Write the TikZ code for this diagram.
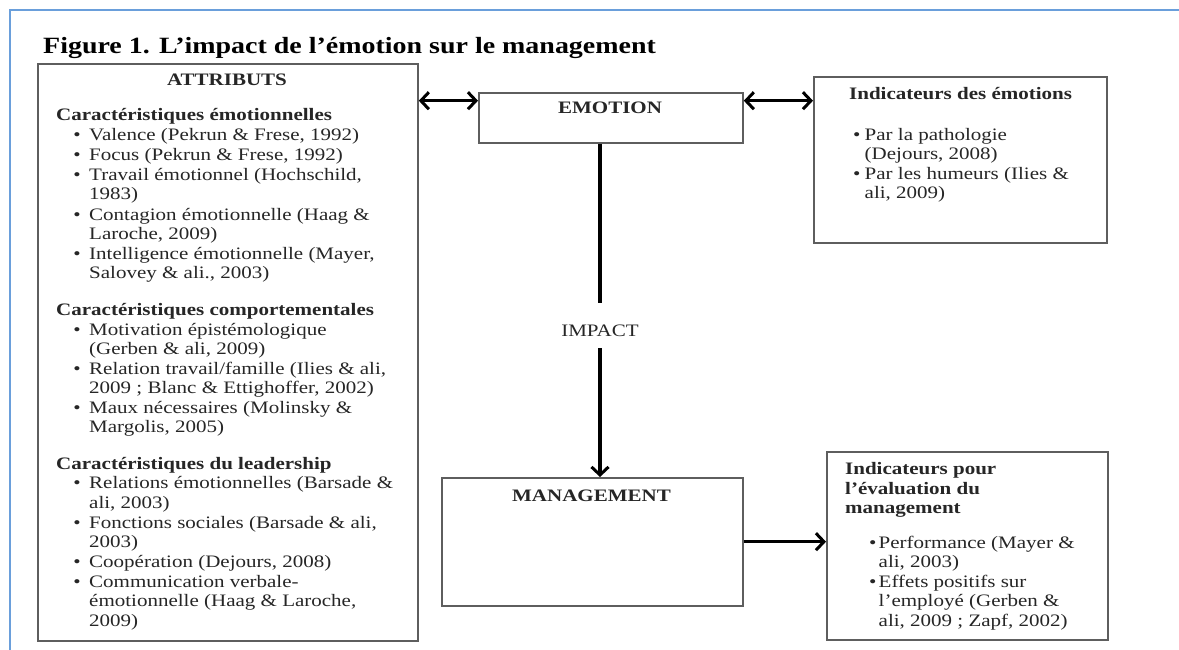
\documentclass[tikz,border=0pt]{standalone}
\usepackage{fontspec}
\setmainfont{Liberation Serif}[FakeStretch=1.2]
\usetikzlibrary{arrows.meta}
\definecolor{frameblue}{HTML}{6A9FDB}
\definecolor{boxgray}{HTML}{5E5E5E}
\definecolor{ink}{HTML}{262626}
\newcommand{\bodyfont}{\fontsize{17.5}{19.8}\selectfont}
\newcommand{\titlefont}{\fontsize{23.3}{26}\selectfont\bfseries}
\begin{document}
\begin{tikzpicture}[x=1pt,y=-1pt,
  box/.style={draw=boxgray,line width=1.8pt,rectangle,inner sep=0pt,anchor=north west,fill=white},
  txt/.style={anchor=base west,inner sep=0pt,font=\bodyfont,text=ink},
  hd/.style={anchor=base west,inner sep=0pt,font=\bodyfont\bfseries,text=ink},
  ctr/.style={anchor=base,inner sep=0pt,font=\bodyfont,text=ink},
  ctrb/.style={anchor=base,inner sep=0pt,font=\bodyfont\bfseries,text=ink},
  dotb/.style={anchor=base,inner sep=0pt,font=\bodyfont,text=ink},
  >={Straight Barb[length=8pt,width=17pt,line width=3pt]},
  conn/.style={line width=3.4pt,draw=black},
]
\useasboundingbox (0,0) rectangle (1179,650);
\fill[white] (0,0) rectangle (1179,650);
% frame
\coordinate (fTR) at (1179,10);
\coordinate (fTL) at (10,10);
\coordinate (fBL) at (10,650);
\draw[frameblue,line width=2pt] (fTR) -- (fTL) -- (fBL);

% title
\node[anchor=base west,inner sep=0pt,font=\titlefont,text=black] (title) at (43,54) {Figure 1. L’impact de l’émotion sur le management};

% boxes
\node[box,minimum width=380pt,minimum height=577pt] (attr) at (37,63) {};
\node[box,minimum width=264pt,minimum height=50pt] (emo) at (478,92) {};
\node[box,minimum width=293pt,minimum height=166pt] (indE) at (813,76) {};
\node[box,minimum width=301pt,minimum height=128pt] (mgmt) at (441,477) {};
\node[box,minimum width=281pt,minimum height=188pt] (indM) at (826,451) {};

% left box text
\node[ctrb] (attrT) at (227,86) {ATTRIBUTS};
\node[hd] (h1) at (56,120.7) {Caractéristiques émotionnelles};
\foreach \y/\b/\t [count=\i] in {
  140.7/1/{Valence (Pekrun \& Frese, 1992)},
  160.7/1/{Focus (Pekrun \& Frese, 1992)},
  180.7/1/{Travail émotionnel (Hochschild,},
  200.0/0/{1983)},
  220.0/1/{Contagion émotionnelle (Haag \&},
  239.3/0/{Laroche, 2009)},
  259.3/1/{Intelligence émotionnelle (Mayer,},
  278.7/0/{Salovey \& ali., 2003)},
  335.0/1/{Motivation épistémologique},
  354.3/0/{(Gerben \& ali, 2009)},
  374.0/1/{Relation travail/famille (Ilies \& ali,},
  393.3/0/{2009 ; Blanc \& Ettighoffer, 2002)},
  413.3/1/{Maux nécessaires (Molinsky \&},
  432.7/0/{Margolis, 2005)},
  488.7/1/{Relations émotionnelles (Barsade \&},
  508.3/0/{ali, 2003)},
  528.7/1/{Fonctions sociales (Barsade \& ali,},
  547.3/0/{2003)},
  567.7/1/{Coopération (Dejours, 2008)},
  587.3/1/{Communication verbale-},
  606.7/0/{émotionnelle (Haag \& Laroche,},
  626.0/0/{2009)}} {
  \node[txt] (la\i) at (89,\y) {\t};
  \ifnum\b=1 \node[dotb] (lb\i) at (77,\y) {\textbullet}; \fi
}
\node[hd] (h2) at (56,315.3) {Caractéristiques comportementales};
\node[hd] (h3) at (56,469.3) {Caractéristiques du leadership};

% emotion / management / impact
\node[ctrb] (emoT) at (610,114) {EMOTION};
\node[ctrb] (mgmtT) at (591.5,501) {MANAGEMENT};
\node[ctr] (impact) at (600,336) {IMPACT};

% right top box
\node[hd] (ieT) at (849,99.3) {Indicateurs des émotions};
\foreach \y/\b/\t [count=\i] in {
  140.7/1/{Par la pathologie},
  160.0/0/{(Dejours, 2008)},
  179.3/1/{Par les humeurs (Ilies \&},
  198.3/0/{ali, 2009)}} {
  \node[txt] (ra\i) at (864.5,\y) {\t};
  \ifnum\b=1 \node[dotb] (rb\i) at (856.7,\y) {\textbullet}; \fi
}

% right bottom box
\node[hd] (imT1) at (845,474.3) {Indicateurs pour};
\node[hd] (imT2) at (845,494) {l’évaluation du};
\node[hd] (imT3) at (845,513.3) {management};
\foreach \y/\b/\t [count=\i] in {
  548.3/1/{Performance (Mayer \&},
  567.7/0/{ali, 2003)},
  587.3/1/{Effets positifs sur},
  606.7/0/{l’employé (Gerben \&},
  626.7/0/{ali, 2009 ; Zapf, 2002)}} {
  \node[txt] (ma\i) at (878.5,\y) {\t};
  \ifnum\b=1 \node[dotb] (mb\i) at (872.7,\y) {\textbullet}; \fi
}

% connectors
\coordinate (yTop) at (0,100.7);
\coordinate (xV) at (600,0);
\coordinate (yM) at (0,541.7);
\coordinate (impTop) at (600,303);
\coordinate (impBot) at (600,348);
\draw[conn,<->] (attr.east |- yTop) -- (emo.west |- yTop);
\draw[conn,<->] (emo.east |- yTop) -- (indE.west |- yTop);
\draw[conn] (xV |- emo.south) -- (impTop);
\draw[conn,->] (impBot) -- (xV |- mgmt.north);
\draw[conn,->] (mgmt.east |- yM) -- (indM.west |- yM);
\end{tikzpicture}
\end{document}
